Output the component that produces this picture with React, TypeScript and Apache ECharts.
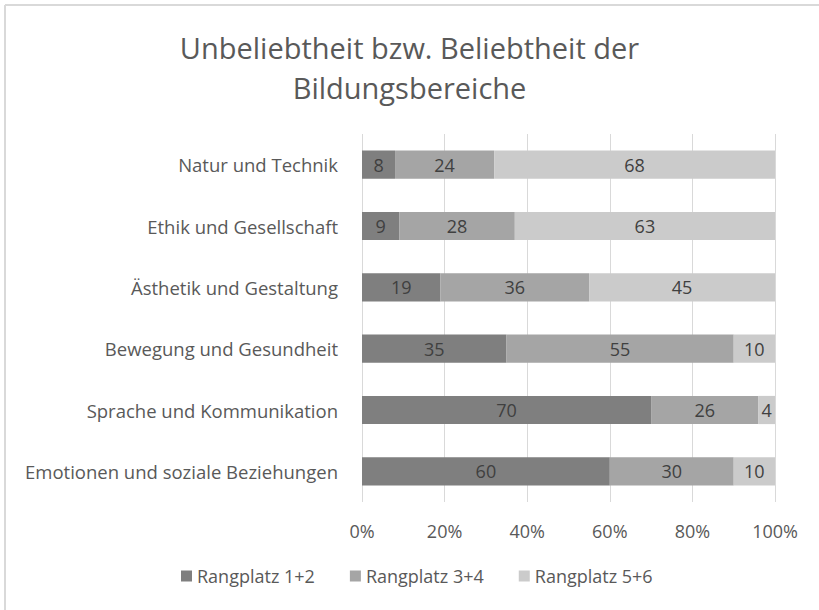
import React, { useEffect, useRef } from "react";
import * as echarts from "echarts";

const categories = [
  "Emotionen und soziale Beziehungen",
  "Sprache und Kommunikation",
  "Bewegung und Gesundheit",
  "Ästhetik und Gestaltung",
  "Ethik und Gesellschaft",
  "Natur und Technik",
];
const rang12 = [60, 70, 35, 19, 9, 8];
const rang34 = [30, 26, 55, 36, 28, 24];
const rang56 = [10, 4, 10, 45, 63, 68];
const seriesNames = ["Rangplatz 1+2", "Rangplatz 3+4", "Rangplatz 5+6"];
const xTicks = [0, 20, 40, 60, 80, 100];

const FONT = "'Open Sans', 'Noto Sans', sans-serif";

export default function App() {
  const ref = useRef<HTMLDivElement>(null);
  useEffect(() => {
    if (!ref.current) return;
    const chart = echarts.init(ref.current, undefined, { renderer: "svg" });
    const colors = ["#7f7f7f", "#a5a5a5", "#cbcbcb"];
    const data = [rang12, rang34, rang56];
    chart.setOption({
      animation: false,
      backgroundColor: "#ffffff",
      textStyle: { fontFamily: FONT },
      title: {
        text: "Unbeliebtheit bzw. Beliebtheit der\nBildungsbereiche",
        left: "center",
        top: 22,
        textStyle: {
          fontFamily: FONT,
          fontSize: 29,
          fontWeight: "normal",
          color: "#595959",
          lineHeight: 40,
        },
      },
      graphic: [
        { type: "line", shape: { x1: 5, y1: 5, x2: 819, y2: 5 }, style: { stroke: "#d9d9d9", lineWidth: 2 } },
        { type: "line", shape: { x1: 5, y1: 5, x2: 5, y2: 610 }, style: { stroke: "#d9d9d9", lineWidth: 2 } },
      ],
      legend: {
        data: seriesNames,
        bottom: 20,
        left: 176,
        itemWidth: 11,
        itemHeight: 11,
        itemGap: 35,
        icon: "rect",
        textStyle: { fontFamily: FONT, fontSize: 18, color: "#595959" },
      },
      grid: { left: 362, right: 44, top: 134, bottom: 108 },
      xAxis: {
        type: "value",
        min: 0,
        max: 100,
        interval: 20,
        axisLine: { show: false },
        axisTick: { show: false },
        splitLine: { lineStyle: { color: "#d9d9d9", width: 1 } },
        axisLabel: {
          formatter: (v: number) => (xTicks.includes(v) ? v + "%" : ""),
          fontFamily: FONT,
          fontSize: 18,
          color: "#595959",
          margin: 20,
        },
      },
      yAxis: {
        type: "category",
        data: categories,
        axisLine: { show: false },
        axisTick: { show: false },
        axisLabel: { fontFamily: FONT, fontSize: 18.5, color: "#595959", margin: 24 },
      },
      series: seriesNames.map((name, i) => ({
        name,
        type: "bar",
        stack: "total",
        data: data[i],
        barCategoryGap: "54%",
        itemStyle: { color: colors[i] },
        label: {
          show: true,
          position: "inside",
          fontFamily: FONT,
          fontSize: 18,
          color: "#404040",
        },
      })),
    });
    return () => chart.dispose();
  }, []);
  return (
    <div
      ref={ref}
      style={{ position: "fixed", left: 0, top: 0, width: 819, height: 610 }}
    />
  );
}
